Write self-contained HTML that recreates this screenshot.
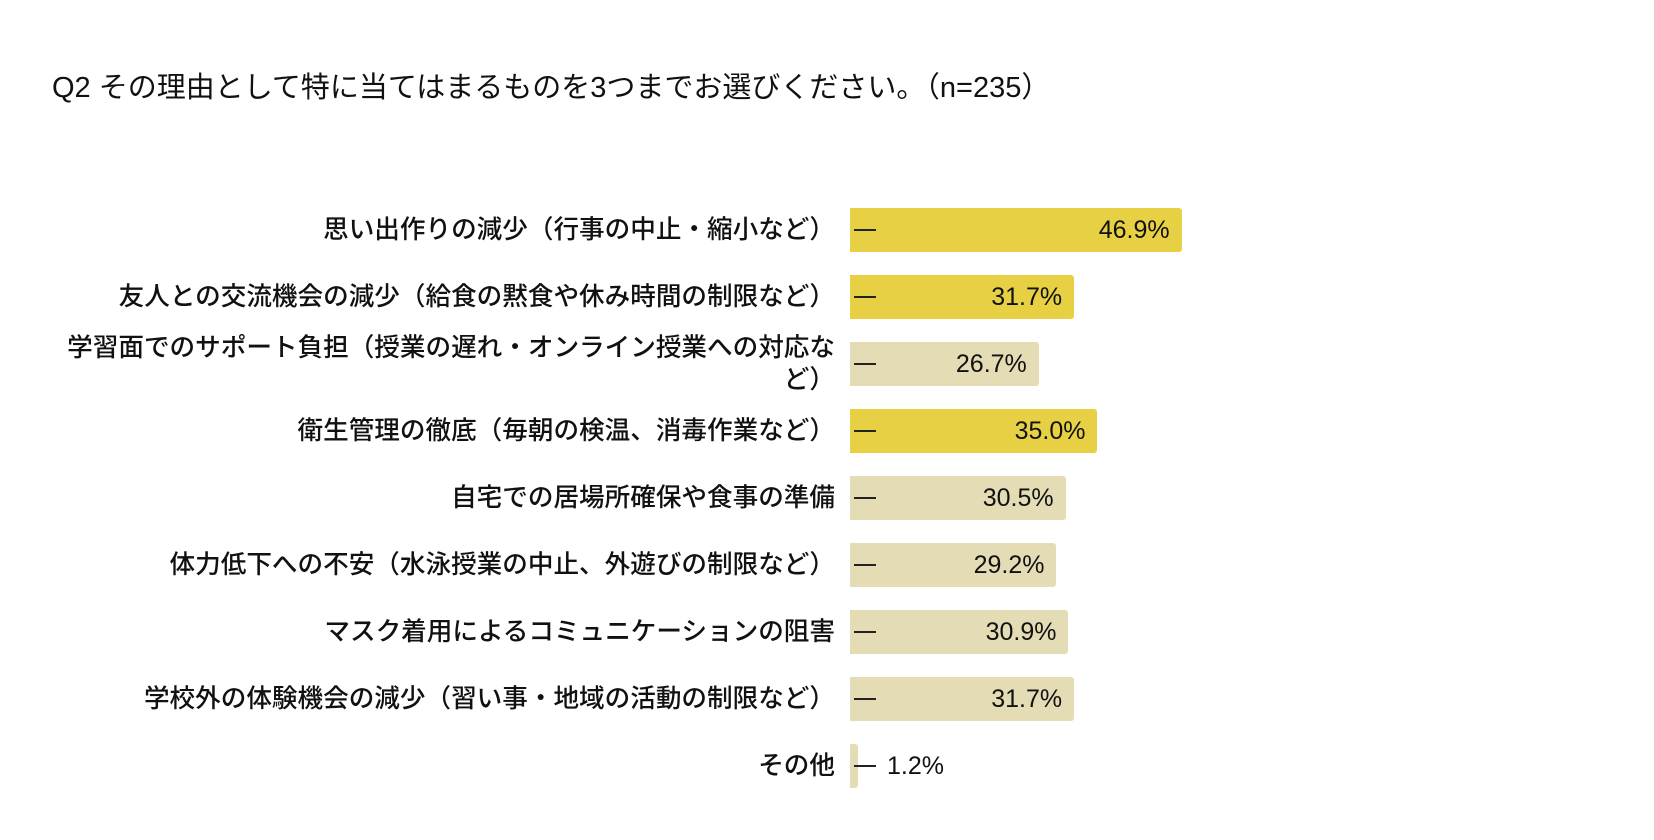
<!DOCTYPE html>
<html><head><meta charset="utf-8">
<style>
body{margin:0;width:1654px;height:840px;background:#fff;overflow:hidden;font-family:"Liberation Sans","Noto Sans CJK JP",sans-serif;color:#111}
#title{position:absolute;left:52px;top:64px;font-size:29px;white-space:nowrap}
.lbl{position:absolute;right:819px;text-align:right;font-size:25.6px;line-height:32px;white-space:nowrap;font-weight:500}
.bar{position:absolute;height:44px;border-radius:0 3px 3px 0}
.tick{position:absolute;height:2px;width:22px;background:#222}
.val{position:absolute;font-size:25px;line-height:44px;white-space:nowrap}
</style></head><body>
<div id="title">Q2 その理由として特に当てはまるものを3つまでお選びください。（n=235）</div>
<div id="chart"></div>
<script>
const categories=["思い出作りの減少（行事の中止・縮小など）","友人との交流機会の減少（給食の黙食や休み時間の制限など）","学習面でのサポート負担（授業の遅れ・オンライン授業への対応な<br>ど）","衛生管理の徹底（毎朝の検温、消毒作業など）","自宅での居場所確保や食事の準備","体力低下への不安（水泳授業の中止、外遊びの制限など）","マスク着用によるコミュニケーションの阻害","学校外の体験機会の減少（習い事・地域の活動の制限など）","その他"];
const values=[46.9,31.7,26.7,35.0,30.5,29.2,30.9,31.7,1.2];
const highlighted=[true,true,false,true,false,false,false,false,false];
const x0=850, pxPer=7.07, y0=230, step=67;
const xs=v=>v*pxPer, ys=i=>y0+i*step;
const c=document.getElementById('chart');
values.forEach((v,i)=>{
  const cy=ys(i);
  const l=document.createElement('div');l.className='lbl';l.innerHTML=categories[i];
  
  
  const lines=categories[i].includes('<br>')?2:1;
  l.style.top=(cy-16*lines)+'px';c.appendChild(l);
  const b=document.createElement('div');b.className='bar';
  
  
  b.style.left=x0+'px';b.style.top=(cy-22)+'px';b.style.width=xs(v)+'px';
  b.style.background=highlighted[i]?'#e7d043':'#e4dcb5';c.appendChild(b);
  const t=document.createElement('div');t.className='tick';
  
  
  t.style.left=(x0+4)+'px';t.style.top=(cy-1)+'px';c.appendChild(t);
  const vl=document.createElement('div');vl.className='val';vl.textContent=v.toFixed(1)+'%';
  
  
  vl.style.top=(cy-22)+'px';
  if(xs(v)>90){vl.style.right=(1654-(x0+xs(v))+12)+'px';}else{vl.style.left=(x0+37)+'px';}
  c.appendChild(vl);
});
</script>
</body></html>
